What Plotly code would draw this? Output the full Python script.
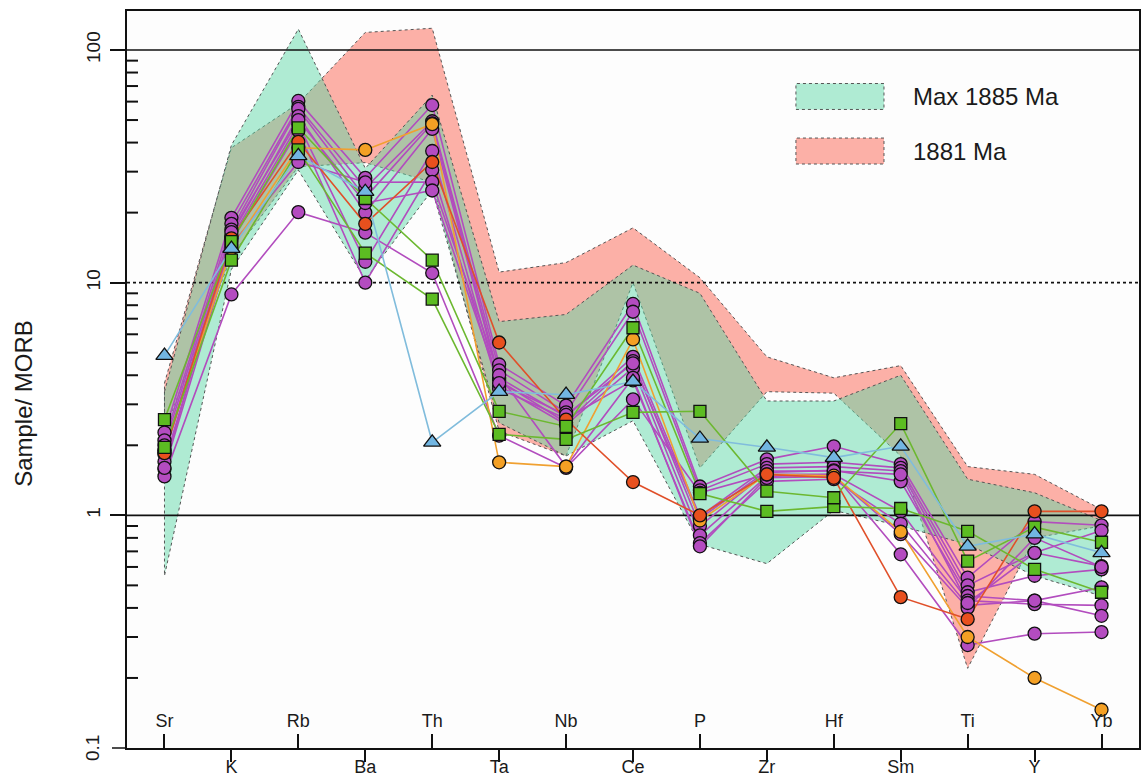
import plotly.graph_objects as go

# Element order of the MORB-normalised spider diagram
ELEMENTS = ["Sr", "K", "Rb", "Ba", "Th", "Ta", "Nb", "Ce", "P", "Zr", "Hf", "Sm", "Ti", "Y", "Yb"]
TOP_LABELS = ELEMENTS[0::2]     # labelled above the axis
BOTTOM_LABELS = ELEMENTS[1::2]  # labelled below the axis

# Y axis decades and the minor steps inside them
Y_MIN = 0.1
MAJOR_TICKS = [1, 10, 100]
MAJOR_TEXT = ["1", "10", "100"]
MINOR_TICKS = [0.2, 0.3, 0.4, 0.5, 0.6, 0.7, 0.8, 0.9,
               2, 3, 4, 5, 6, 7, 8, 9,
               20, 30, 40, 50, 60, 70, 80, 90]

# Reference envelopes
max1885_upper = [3.4, 39, 123, 31, 64, 6.8, 7.3, 11.9, 9.0, 3.1, 3.1, 4.0, 1.43, 1.25, 0.95]
max1885_lower = [0.55, 11.4, 30.5, 10.3, 25, 2.5, 1.8, 2.55, 0.75, 0.62, 1.05, 0.9, 0.75, 0.55, 0.45]
ma1881_upper = [3.7, 38, 59, 119, 124, 11.1, 12.2, 17.2, 10.5, 4.8, 3.9, 4.4, 1.62, 1.5, 1.06]
ma1881_lower = [2.3, 13, 31.5, 32.8, 27, 2.3, 1.8, 10.0, 1.6, 3.4, 3.35, 1.8, 0.22, 0.8, 0.9]

# Samples (sample / MORB)
purple_samples = [
    [2.27, 19.0, 60.4, 28.2, 58.0, 4.45, 2.96, 8.1, 1.33, 1.74, 1.98, 1.66, 0.54, 0.94, 0.906],
    [2.10, 17.9, 57.0, 25.5, 49.4, 4.20, 2.77, 7.5, 1.28, 1.66, 1.69, 1.60, 0.50, 0.69, 0.605],
    [2.00, 16.9, 55.8, 23.2, 48.4, 3.90, 2.65, 4.8, 0.99, 1.60, 1.62, 1.55, 0.467, 0.55, 0.586],
    [1.90, 16.0, 52.0, 20.0, 45.8, 3.80, 2.50, 4.6, 0.90, 1.53, 1.56, 1.40, 0.45, 0.43, 0.49],
    [1.83, 15.5, 48.0, 12.3, 36.8, 3.60, 2.45, 4.3, 0.82, 1.47, 1.50, 1.04, 0.43, 0.415, 0.41],
    [1.70, 15.0, 45.0, 10.0, 30.5, 3.50, 2.60, 3.8, 0.76, 1.40, 1.43, 0.92, 0.41, 0.43, 0.37],
    [1.58, 14.5, 33.0, 27.0, 27.1, 4.00, 1.62, 3.9, 0.736, 1.45, 1.47, 0.83, 0.40, 0.80, 0.60],
    [1.47, 8.9, 20.1, 16.4, 11.0, 2.20, 1.60, 3.15, 1.25, 1.50, 1.50, 0.68, 0.277, 0.31, 0.315],
    [1.60, 16.5, 50.0, 22.0, 24.9, 3.70, 2.70, 4.5, 0.97, 1.55, 1.55, 1.50, 0.42, 0.69, 0.86],
]
green_samples = [
    [2.58, 15.0, 46.3, 23.0, 12.5, 2.80, 2.41, 6.4, 1.24, 1.04, 1.09, 1.07, 0.854, 0.586, 0.467],
    [1.96, 12.5, 37.2, 13.4, 8.5, 2.23, 2.12, 2.77, 2.80, 1.27, 1.19, 2.48, 0.635, 0.89, 0.766],
]
blue_sample = [4.86, 14.0, 35.1, 24.6, 2.06, 3.40, 3.30, 3.76, 2.14, 1.96, 1.77, 1.98, 0.736, 0.83, 0.69]
orange_sample = [1.9, 14.0, 38.0, 37.2, 48.0, 1.69, 1.62, 5.7, 0.95, 1.50, 1.48, 0.85, 0.30, 0.20, 0.146]
red_sample = [1.85, 15.5, 40.3, 17.9, 33.0, 5.53, 2.58, 1.39, 1.00, 1.50, 1.45, 0.445, 0.358, 1.04, 1.04]

GREEN_FILL = "rgba(90,215,165,0.48)"
RED_FILL = "rgba(250,84,66,0.46)"
EDGE = "#555555"
INK = "#111111"
CLEAR = "rgba(0,0,0,0)"
FONT = "Arial, Liberation Sans, Helvetica, sans-serif"
TXT = "#1a1a1a"

PLOT_W = 1012  # panel width in px, used for tick lengths in paper units

fig = go.Figure()


def envelope(upper, lower, fill, xaxis):
    xs = ELEMENTS + ELEMENTS[::-1] + [ELEMENTS[0]]
    ys = upper + lower[::-1] + [upper[0]]
    fig.add_trace(go.Scatter(
        x=xs, y=ys, mode="lines", fill="toself", fillcolor=fill,
        line=dict(color=EDGE, width=1, dash="dot"),
        xaxis=xaxis, yaxis="y", showlegend=False, hoverinfo="skip"))


# x : frame + downward ticks, x2 : labels under the axis
envelope(ma1881_upper, ma1881_lower, RED_FILL, "x")
envelope(max1885_upper, max1885_lower, GREEN_FILL, "x2")

# Reference levels (100, 10 and 1 x MORB) across the whole panel, above the envelopes
for level, dash in [(100, "solid"), (10, "dot"), (1, "solid")]:
    fig.add_trace(go.Scatter(
        x=[0, 1], y=[level, level], mode="lines",
        line=dict(color=INK, width=1.6, dash=dash),
        xaxis="x3", yaxis="y", showlegend=False, hoverinfo="skip"))

# Minor y ticks pointing into the panel
for v in MINOR_TICKS:
    fig.add_trace(go.Scatter(
        x=[0, 11 / PLOT_W], y=[v, v], mode="lines", line=dict(color=INK, width=2),
        xaxis="x3", yaxis="y", showlegend=False, hoverinfo="skip"))

series = []
for s in purple_samples:
    series.append((s, "#b24cbe", "#b44cc0", "circle", 13))
series.append((orange_sample, "#f0a030", "#f4a024", "circle", 13))
series.append((red_sample, "#e0502a", "#e8501e", "circle", 13))
for s in green_samples:
    series.append((s, "#6cb830", "#5cbc22", "square", 12))
series.append((blue_sample, "#80bcdc", "#72b6e2", "triangle-up", 15))

# connecting lines first (x4 : upward ticks), symbols on top (x5 : labels above the axis)
for vals, lc, mc, sym, size in series:
    fig.add_trace(go.Scatter(
        x=ELEMENTS, y=vals, mode="lines", line=dict(color=lc, width=1.6),
        xaxis="x4", yaxis="y", showlegend=False, hoverinfo="skip"))
for vals, lc, mc, sym, size in series:
    fig.add_trace(go.Scatter(
        x=ELEMENTS, y=vals, mode="markers",
        marker=dict(symbol=sym, size=size, color=mc, line=dict(color=INK, width=1.3)),
        xaxis="x5", yaxis="y", showlegend=False))

# Lowest decade mark (0.1) sits on the bottom edge of the panel
fig.add_shape(type="line", xref="paper", yref="paper", x0=-15 / PLOT_W, x1=0, y0=0, y1=0,
              line=dict(color=INK, width=1.5), layer="above")
fig.add_annotation(text=str(Y_MIN), xref="paper", yref="paper", x=-35 / PLOT_W, y=0,
                   textangle=-90, showarrow=False, xanchor="center", yanchor="middle",
                   font=dict(family=FONT, size=19, color=TXT))

xr = [-0.56, len(ELEMENTS) - 1 + 0.56]
common_x = dict(type="category", categoryorder="array", categoryarray=ELEMENTS,
                range=xr, showgrid=False, zeroline=False, tickmode="array",
                tickfont=dict(family=FONT, size=18, color=TXT),
                tickwidth=1.5, anchor="y", automargin=False, side="bottom")

fig.update_layout(
    width=1141, height=778,
    margin=dict(l=127, r=2, t=11, b=30, autoexpand=False),
    paper_bgcolor="white", plot_bgcolor="#fdfdfd",
    showlegend=False,
    xaxis=dict(**common_x, tickvals=BOTTOM_LABELS, ticks="outside", ticklen=12,
               tickcolor=INK, showticklabels=False,
               showline=True, linecolor=INK, linewidth=1.5, mirror=True),
    xaxis2=dict(**common_x, tickvals=BOTTOM_LABELS, ticktext=BOTTOM_LABELS, ticks="outside",
                ticklen=2, tickcolor=CLEAR, overlaying="x", showline=False),
    xaxis3=dict(range=[0, 1], visible=False, overlaying="x", anchor="y", automargin=False),
    xaxis4=dict(**common_x, tickvals=TOP_LABELS, ticks="inside", ticklen=14, tickcolor=INK,
                showticklabels=False, overlaying="x", showline=False),
    xaxis5=dict(**common_x, tickvals=TOP_LABELS, ticktext=TOP_LABELS, ticks="inside",
                ticklen=18, tickcolor=CLEAR, ticklabelposition="inside",
                overlaying="x", showline=False),
    yaxis=dict(type="log", range=[-1, 2.1676], showgrid=False, zeroline=False,
               tickmode="array", tickvals=MAJOR_TICKS, ticktext=MAJOR_TEXT,
               tickangle=-90, ticks="outside", ticklen=15, tickwidth=1.5, tickcolor=INK,
               tickfont=dict(family=FONT, size=19, color=TXT), ticklabelstandoff=3,
               showline=True, linecolor=INK, linewidth=1.5, mirror=True, automargin=False),
)

# Y axis title
fig.add_annotation(text="Sample/ MORB", xref="paper", yref="paper", x=-0.103, y=0.468,
                   textangle=-90, showarrow=False, xanchor="center", yanchor="middle",
                   font=dict(family=FONT, size=24, color=TXT))

# Legend: swatches and labels
legend_items = [("Max 1885 Ma", GREEN_FILL, 0.884), ("1881 Ma", RED_FILL, 0.810)]
for label, fill, yc in legend_items:
    fig.add_shape(type="rect", xref="paper", yref="paper",
                  x0=0.661, x1=0.748, y0=yc - 0.0176, y1=yc + 0.0176,
                  fillcolor=fill, line=dict(color=EDGE, width=1, dash="dot"), layer="above")
    fig.add_annotation(text=label, xref="paper", yref="paper", x=0.775, y=yc,
                       xanchor="left", yanchor="middle", showarrow=False,
                       font=dict(family=FONT, size=24, color=TXT))

fig.write_html("out.html")
